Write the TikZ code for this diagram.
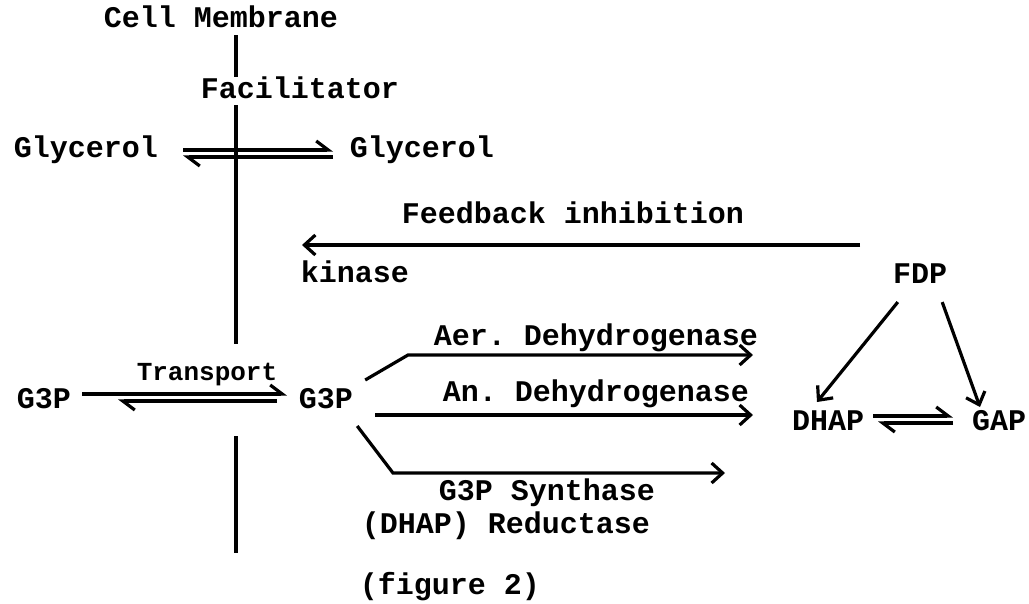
\documentclass[tikz,border=0pt]{standalone}
\usepackage{fontspec}
\setmonofont{Liberation Mono}
\usetikzlibrary{arrows.meta}

\tikzset{
  lbl/.style={font=\ttfamily\bfseries\fontsize{30}{32}\selectfont, inner sep=0pt},
  rxn/.style={line width=3.2pt, -{Straight Barb[length=11pt,width=20pt]}},
  half/.style={line width=3.2pt, -{Straight Barb[left,length=12pt,width=18pt]}},
  memb/.style={line width=3.2pt},
}

\begin{document}
\begin{tikzpicture}[x=1pt,y=-1pt]
    \useasboundingbox (0,0) rectangle (1029,603);

    % text
    \node[lbl](cm) at (221,17){Cell Membrane};
    \node[lbl](fac) at (300,88){Facilitator};
    \node[lbl](glyA) at (86,150){Glycerol};
    \node[lbl](glyB) at (422,150){Glycerol};
    \node[lbl](fb) at (573,213){Feedback inhibition};
    \node[lbl](kin) at (355,272){kinase};
    \node[lbl](fdp) at (920,274){FDP};
    \node[lbl](g3pA) at (44,399){G3P};
    \node[font=\ttfamily\bfseries\fontsize{26}{28}\selectfont, inner sep=0pt](tr) at (207,375){Transport};
    \node[lbl](g3pB) at (326,399){G3P};
    \node[lbl](aer) at (596,338){Aer. Dehydrogenase};
    \node[lbl](an) at (596,394){An. Dehydrogenase};
    \node[lbl](syn) at (547,493){G3P Synthase};
    \node[lbl](red) at (506,526){(DHAP) Reductase};
    \node[lbl](dhap) at (828,421){DHAP};
    \node[lbl](gap) at (999,421){GAP};
    \node[lbl](fig) at (450,587){(figure 2)};

    % membrane
    \coordinate (m1) at (236,35);
    \coordinate (m2) at (236,77);
    \coordinate (m3) at (236,105);
    \coordinate (m4) at (236,344);
    \coordinate (m5) at (236,436);
    \coordinate (m6) at (236,553);
    \draw[memb](m1)--(m2);
    \draw[memb](m3)--(m4);
    \draw[memb](m5)--(m6);

    % glycerol facilitator
    \draw[half](183,150)--(333,150);
    \draw[half](333,157)--(183,157);

    % transport
    \draw[half](82,394)--(287,394);
    \draw[half](277,401)--(118,401);

    % feedback
    \coordinate (fbA) at (860,245);
    \coordinate (fbB) at (302,245);
    \draw[rxn](fbA)--(fbB);

    % branches from G3P
    \draw[rxn](g3pB.east)++(12,-19)--(408,355)--(753,355);
    \draw[rxn](375,415)--(753,415);
    \draw[rxn](g3pB.east)++(4,27)--(393,473)--(725,473);

    % FDP split
    \draw[rxn](fdp.south west)++(5,18)--(817,402);
    \draw[rxn](fdp.south east)++(-5,18)--(980,407);

    % DHAP <-> GAP
    \draw[half](873,416)--(953,416);
    \draw[half](953,423)--(878,423);
\end{tikzpicture}
\end{document}
